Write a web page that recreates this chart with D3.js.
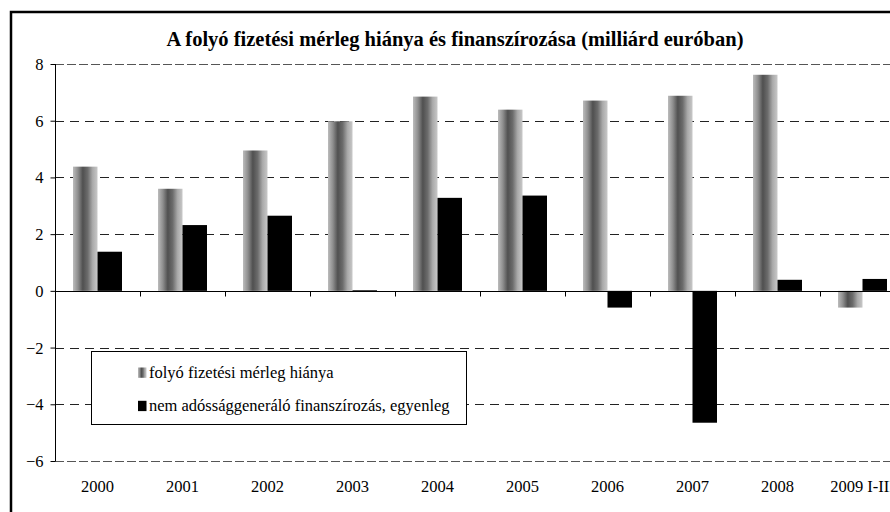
<!DOCTYPE html>
<html>
<head>
<meta charset="utf-8">
<script src="https://cdn.jsdelivr.net/npm/d3@7"></script>
<style>
  body { margin: 0; background: #fff; }
  svg text { font-family: "Times New Roman", "Liberation Serif", Tinos, "DejaVu Serif", serif; }
</style>
</head>
<body>
<script>
// data
var years = ["2000", "2001", "2002", "2003", "2004", "2005", "2006", "2007", "2008", "2009 I-III"];
var deficit = [4.38, 3.6, 4.95, 5.98, 6.85, 6.39, 6.71, 6.88, 7.62, -0.59];
var financing = [1.38, 2.32, 2.65, 0.02, 3.28, 3.36, -0.59, -4.65, 0.39, 0.42];
var seriesNames = ["folyó fizetési mérleg hiánya", "nem adóssággeneráló finanszírozás, egyenleg"];
var yTicks = [8, 6, 4, 2, 0, -2, -4, -6];
var title = "A folyó fizetési mérleg hiánya és finanszírozása (milliárd euróban)";

var W = 890, H = 512;
var svg = d3.select("body").append("svg").attr("width", W).attr("height", H);

// gradient for the "cylinder" bars
var defs = svg.append("defs");
var grad = defs.append("linearGradient").attr("id", "cyl")
    .attr("x1", "0").attr("x2", "1").attr("y1", "0").attr("y2", "0");
[[0, "#bcbcbc"], [0.2, "#8e8e8e"], [0.4, "#505050"], [0.6, "#6c6c6c"], [0.8, "#aaaaaa"], [1, "#c8c8c8"]]
  .forEach(function (s) { grad.append("stop").attr("offset", s[0]).attr("stop-color", s[1]); });

// outer frame (cut off on the right and bottom like the original)
svg.append("path")
    .attr("d", "M11,520 V12 H900")
    .attr("fill", "none").attr("stroke", "#000").attr("stroke-width", 2.5);

/* SCALES ********************************************************** */
var x0 = d3.scaleBand().domain(years).range([55, 905]);
var x1 = d3.scaleBand().domain([0, 1]).range([0, x0.bandwidth()]).paddingOuter(0.735);
var y = d3.scaleLinear().domain([-6, 8]).range([461, 64]);

/* GRID ************************************************************ */
svg.append("g").selectAll("line").data(yTicks.filter(function (d) { return d !== 0; }))
  .enter().append("line")
    .attr("x1", 55).attr("x2", 905)
    .attr("y1", function (d) { return Math.round(y(d)) + 0.5; })
    .attr("y2", function (d) { return Math.round(y(d)) + 0.5; })
    .attr("stroke", function (d) { return (d === 8 || d === -6) ? "#555" : "#222"; })
    .attr("stroke-dasharray", function (d) { return (d === 8 || d === -6) ? "9,3" : "9,6"; });

/* BARS ************************************************************ */
var rows = years.map(function (yr, i) { return { year: yr, vals: [deficit[i], financing[i]] }; });
var grp = svg.append("g").selectAll("g").data(rows).enter().append("g")
    .attr("transform", function (d) { return "translate(" + x0(d.year) + ",0)"; });
grp.selectAll("rect").data(function (d) { return d.vals; }).enter().append("rect")
    .attr("x", function (d, i) { return x1(i); })
    .attr("width", x1.bandwidth())
    .attr("y", function (d) { return y(Math.max(0, d)); })
    .attr("height", function (d) { return Math.max(1, Math.abs(y(d) - y(0))); })
    .attr("fill", function (d, i) { return i === 0 ? "url(#cyl)" : "#000"; });

/* AXES ************************************************************ */
var yAxis = svg.append("g").attr("transform", "translate(55.5,0)")
    .call(d3.axisLeft(y).tickValues(yTicks).tickSize(5).tickFormat(d3.format("d")))
    .attr("font-family", null);
yAxis.select(".domain").attr("d", "M0," + y(8) + "V" + y(-6));
yAxis.selectAll("text").attr("font-size", 16.5)
    .attr("fill", "#000").attr("x", -12).attr("dy", "0.33em");

var xAxis = svg.append("g").attr("transform", "translate(0," + (Math.round(y(0)) + 0.5) + ")");
xAxis.append("line").attr("x1", 55).attr("x2", 905).attr("stroke", "#000");
xAxis.selectAll("line.tk").data(years).enter().append("line").attr("class", "tk")
    .attr("x1", function (d) { return Math.round(x0(d) + x0.bandwidth()) + 0.5; })
    .attr("x2", function (d) { return Math.round(x0(d) + x0.bandwidth()) + 0.5; })
    .attr("y1", 0).attr("y2", 5).attr("stroke", "#000");

svg.append("g").selectAll("text").data(years).enter().append("text")
    .attr("x", function (d) { return x0(d) + x0.bandwidth() / 2; })
    .attr("y", 492)
    .attr("text-anchor", "middle").attr("font-size", 16.5)
    .text(function (d) { return d; });

/* TITLE *********************************************************** */
svg.append("text").attr("x", 455).attr("y", 46).attr("text-anchor", "middle")
    .attr("font-size", 20.5).attr("font-weight", "bold").text(title);

/* LEGEND ********************************************************** */
var lg = svg.append("g");
lg.append("rect").attr("x", 91.5).attr("y", 351.5).attr("width", 375).attr("height", 73)
    .attr("fill", "#fff").attr("stroke", "#000");
lg.selectAll("rect.sw").data(seriesNames).enter().append("rect").attr("class", "sw")
    .attr("x", 138).attr("y", function (d, i) { return 367.5 + i * 33.3; })
    .attr("width", 8.5).attr("height", 10.3)
    .attr("fill", function (d, i) { return i === 0 ? "url(#cyl)" : "#000"; });
lg.selectAll("text").data(seriesNames).enter().append("text")
    .attr("x", 149).attr("y", function (d, i) { return 377.5 + i * 33.3; })
    .attr("font-size", 16.5).text(function (d) { return d; });
</script>
</body>
</html>
